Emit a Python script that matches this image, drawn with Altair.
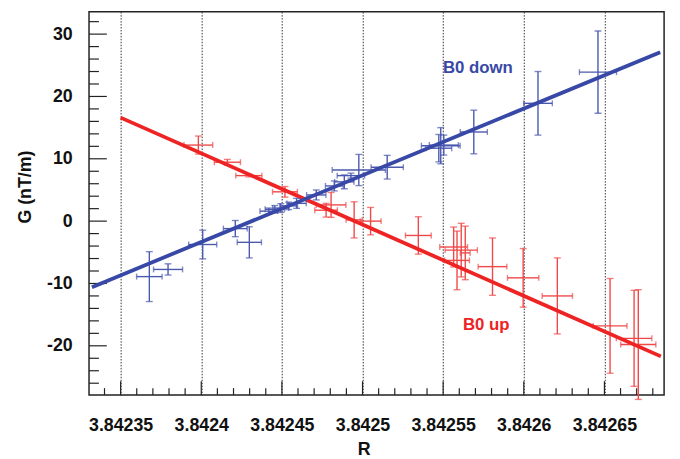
import altair as alt
import pandas as pd

# ---- data ----
blue_R = [3.8423678, 3.8423794, 3.8424009, 3.8424211, 3.8424298, 3.8424419, 3.8424456,
          3.8424493, 3.8424542, 3.8424591, 3.8424713, 3.8424825, 3.8424887, 3.8424928,
          3.8424977, 3.8425153, 3.8425473, 3.8425485, 3.8425504, 3.842569, 3.8426088,
          3.842646]
blue_G = [-8.9, -7.75, -3.75, -1.2, -3.4, 1.6, 1.9, 2.1, 2.45, 2.85, 4.2, 5.65, 6.3, 7.3,
          8.2, 8.65, 11.7, 12.1, 12.2, 14.3, 18.9, 23.9]
blue_xerr = [7.9e-6, 9.0e-6, 8.7e-6, 7.4e-6, 7.5e-6, 5.5e-6, 6.0e-6, 5.0e-6, 5.5e-6, 6.0e-6,
             6.0e-6, 5.5e-6, 6.0e-6, 8.5e-6, 1.65e-5, 1.0e-5, 8.0e-6, 1.2e-5, 9.0e-6, 8.4e-6,
             8.9e-6, 1.15e-5]
blue_yerr = [4.0, 0.9, 2.3, 1.3, 2.5, 0.5, 0.6, 0.7, 0.6, 0.8, 0.8, 0.8, 1.1, 0.4, 2.5, 1.9,
             2.2, 2.9, 1.6, 3.5, 5.1, 6.6]

red_R = [3.8423982, 3.8424162, 3.8424295, 3.8424519, 3.8424774, 3.8424805, 3.8424948,
         3.842505, 3.8425346, 3.8425565, 3.8425586, 3.8425612, 3.8425637, 3.8425806,
         3.8425996, 3.8426208, 3.8426535, 3.8426684, 3.842671]
red_G = [12.2, 9.45, 7.3, 4.7, 1.75, 2.6, 0.2, 0.0, -2.3, -4.15, -6.3, -4.65, -5.1, -7.3,
         -9.1, -12.0, -16.8, -18.8, -19.8]
red_xerr = [8.9e-6, 8.1e-6, 8.1e-6, 7.7e-6, 7.0e-6, 9.2e-6, 5.0e-6, 6.5e-6, 8.0e-6, 8.6e-6,
            7.7e-6, 1.0e-5, 3.0e-6, 8.9e-6, 9.7e-6, 9.4e-6, 1.05e-5, 1.1e-5, 1.09e-5]
red_yerr = [1.45, 0.45, 0.2, 0.85, 1.1, 2.0, 2.9, 2.2, 3.0, 3.2, 4.7, 4.3, 4.3, 4.6, 4.7,
            6.1, 7.6, 7.7, 8.8]

blue_fit_R = [3.8423322, 3.8426846]
blue_fit_G = [-10.6, 27.1]
red_fit_R = [3.84235, 3.842685]
red_fit_G = [16.6, -21.7]

x_major = [3.84235, 3.8424, 3.84245, 3.8425, 3.84255, 3.8426, 3.84265]
x_minor = [3.84234, 3.84236, 3.84237, 3.84238, 3.84239, 3.84241, 3.84242, 3.84243, 3.84244,
           3.84246, 3.84247, 3.84248, 3.84249, 3.84251, 3.84252, 3.84253, 3.84254,
           3.84256, 3.84257, 3.84258, 3.84259, 3.84261, 3.84262, 3.84263, 3.84264,
           3.84266, 3.84267, 3.84268]
y_major = [-20, -10, 0, 10, 20, 30]
y_minor = [-26, -24, -22, -18, -16, -14, -12, -8, -6, -4, -2, 2, 4, 6, 8, 12, 14, 16, 18,
           22, 24, 26, 28, 32]

labels_text = ["B0 down", "B0 up"]
labels_R = [3.8425715, 3.8425767]
labels_G = [24.5, -16.6]

# ---- styling ----
W, H = 582, 388
BLUE_LINE, BLUE_ERR = "#3848a6", "#4a58ae"
RED_LINE, RED_ERR = "#ee2424", "#f04848"
FONT = "Liberation Sans"

xs = alt.Scale(domain=[3.8423304, 3.842687], nice=False, zero=False)
ys = alt.Scale(domain=[-27.9, 33.6], nice=False, zero=False)

x_axis = alt.Axis(values=x_major, format=".6~g", title="R", grid=True, gridDash=[1.5, 1.5],
                  gridColor="#333", gridWidth=1, gridOpacity=1, ticks=False, tickSize=0,
                  domain=False, labelFont=FONT, labelFontSize=18, labelFontWeight="bold",
                  labelColor="#111", labelPadding=22, labelFlush=False,
                  titleFont=FONT, titleFontSize=18, titleFontWeight="bold", titleColor="#111",
                  titleX=278, titleY=55, titleBaseline="middle", titleAlign="center")
y_axis = alt.Axis(values=y_major, title="G (nT/m)", grid=False, ticks=False, tickSize=0,
                  domain=False, labelFont=FONT, labelFontSize=18, labelFontWeight="bold",
                  labelColor="#111", labelPadding=17, labelExpr="'' + datum.value",
                  titleFont=FONT, titleFontSize=18, titleFontWeight="bold", titleColor="#111",
                  titleX=-64, titleY=177, titleBaseline="middle", titleAlign="center",
                  titleAngle=-90)


def X(f):
    return alt.X(f, type="quantitative", scale=xs, axis=x_axis, title="R")


def Y(f):
    return alt.Y(f, type="quantitative", scale=ys, axis=y_axis, title="G (nT/m)")


def frame(R, G, xe, ye):
    df = pd.DataFrame({"R": R, "G": G, "xe": xe, "ye": ye})
    df["Rlo"] = df["R"] - df["xe"]
    df["Rhi"] = df["R"] + df["xe"]
    df["Glo"] = df["G"] - df["ye"]
    df["Ghi"] = df["G"] + df["ye"]
    return df


blue = frame(blue_R, blue_G, blue_xerr, blue_yerr)
red = frame(red_R, red_G, red_xerr, red_yerr)

tick_col = "#222"
xmaj = alt.Chart(pd.DataFrame({"R": x_major})).mark_rule(color=tick_col, strokeWidth=1.2).encode(
    x=X("R"), y=alt.value(H), y2=alt.value(H - 14))
xmin = alt.Chart(pd.DataFrame({"R": x_minor})).mark_rule(color=tick_col, strokeWidth=1.2).encode(
    x=X("R"), y=alt.value(H), y2=alt.value(H - 7))
ymaj = alt.Chart(pd.DataFrame({"G": y_major})).mark_rule(color=tick_col, strokeWidth=1.2).encode(
    y=Y("G"), x=alt.value(0), x2=alt.value(18))
ymin = alt.Chart(pd.DataFrame({"G": y_minor})).mark_rule(color=tick_col, strokeWidth=1.2).encode(
    y=Y("G"), x=alt.value(0), x2=alt.value(10))


def series(df, fitR, fitG, err_col, line_col):
    c = alt.Chart(df)
    h = c.mark_rule(color=err_col, strokeWidth=1.4).encode(x=X("Rlo"), x2="Rhi", y=Y("G"))
    v = c.mark_rule(color=err_col, strokeWidth=1.4).encode(x=X("R"), y=Y("Glo"), y2="Ghi")
    capl = c.mark_tick(color=err_col, orient="vertical", size=6, thickness=1.4).encode(
        x=X("Rlo"), y=Y("G"))
    caph = c.mark_tick(color=err_col, orient="vertical", size=6, thickness=1.4).encode(
        x=X("Rhi"), y=Y("G"))
    capb = c.mark_tick(color=err_col, orient="horizontal", size=7, thickness=1.4).encode(
        x=X("R"), y=Y("Glo"))
    capt = c.mark_tick(color=err_col, orient="horizontal", size=7, thickness=1.4).encode(
        x=X("R"), y=Y("Ghi"))
    fit = alt.Chart(pd.DataFrame({"R": fitR, "G": fitG})).mark_line(
        color=line_col, strokeWidth=3.8, clip=True).encode(x=X("R"), y=Y("G"))
    return [h, v, capl, caph, capb, capt, fit]


layers = series(red, red_fit_R, red_fit_G, RED_ERR, RED_LINE) + \
    series(blue, blue_fit_R, blue_fit_G, BLUE_ERR, BLUE_LINE)

txt = alt.Chart(pd.DataFrame({"t": labels_text, "R": labels_R, "G": labels_G,
                              "c": [BLUE_LINE, RED_LINE]})).mark_text(
    font=FONT, fontSize=17, fontWeight="bold", align="center", baseline="middle").encode(
    x=X("R"), y=Y("G"), text="t:N", color=alt.Color("c:N", scale=None))

chart = alt.layer(xmaj, xmin, ymaj, ymin, *layers, txt).properties(
    width=W, height=H,
    autosize=alt.AutoSizeParams(type="none"),
    padding={"left": 82, "top": 1, "right": 8, "bottom": 62},
).configure_view(stroke="#222", strokeWidth=1.5)

chart.save("out.html", embed_options={"renderer": "svg", "actions": False})
